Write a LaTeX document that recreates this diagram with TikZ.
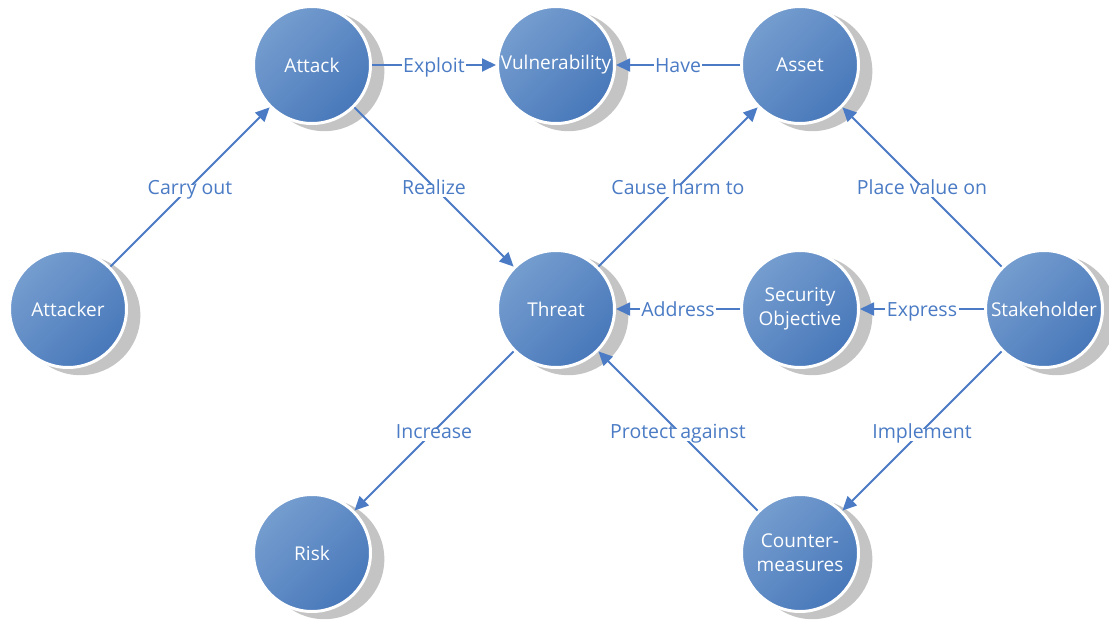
\documentclass[tikz,border=0pt]{standalone}
\usepackage{fontspec}
\setmainfont{Open Sans}
\usetikzlibrary{arrows.meta,shadows}
\definecolor{edgeblue}{HTML}{4A7BC4}
\definecolor{lightblue}{HTML}{759DCF}
\definecolor{darkblue}{HTML}{4878BA}
\definecolor{shadowgray}{HTML}{C4C4C4}
\tikzset{
  concept/.style={circle, minimum size=117pt, inner sep=0pt,
    draw=white, line width=3pt,
    shading=axis, top color=lightblue, bottom color=darkblue, shading angle=45,
    general shadow={fill=shadowgray, shadow xshift=12pt, shadow yshift=-6pt, shadow scale=1.026},
    text=white, align=center, font=\fontsize{19}{24}\selectfont},
  rel/.style={draw=edgeblue, line width=1.8pt, -{Triangle[length=14pt,width=13pt]}},
  lab/.style={fill=white, text=edgeblue, inner sep=1.5pt, anchor=base, yshift=-7pt,
    text height=1.45ex, text depth=0.25ex, font=\fontsize{19.5}{22}\selectfont}
}
\begin{document}
\begin{tikzpicture}[x=1pt, y=-1pt]
  \useasboundingbox (0,0) rectangle (1109,627);
  % concepts on a 244pt grid
  \node[concept] (attack)   at (312,65)  {Attack};
  \node[concept] (vuln)     at (556,65)  {Vulnerability};
  \node[concept] (asset)    at (800,65)  {Asset};
  \node[concept] (attacker) at (68,309)  {Attacker};
  \node[concept] (threat)   at (556,309) {Threat};
  \node[concept] (secobj)   at (800,309) {Security\\Objective};
  \node[concept] (stake)    at (1044,309) {Stakeholder};
  \node[concept] (risk)     at (312,553) {Risk};
  \node[concept] (counter)  at (800,553) {Counter-\\measures};
  % relations
  \draw[rel] (attacker) -- (attack) node[lab, midway] {Carry out};
  \draw[rel] (attack) -- (vuln) node[lab, midway] {Exploit};
  \draw[rel] (asset) -- (vuln) node[lab, midway] {Have};
  \draw[rel] (attack) -- (threat) node[lab, midway] {Realize};
  \draw[rel] (threat) -- (asset) node[lab, midway] {Cause harm to};
  \draw[rel] (stake) -- (asset) node[lab, midway] {Place value on};
  \draw[rel] (secobj) -- (threat) node[lab, midway] {Address};
  \draw[rel] (stake) -- (secobj) node[lab, midway] {Express};
  \draw[rel] (threat) -- (risk) node[lab, midway] {Increase};
  \draw[rel] (counter) -- (threat) node[lab, midway] {Protect against};
  \draw[rel] (stake) -- (counter) node[lab, midway] {Implement};
\end{tikzpicture}
\end{document}
